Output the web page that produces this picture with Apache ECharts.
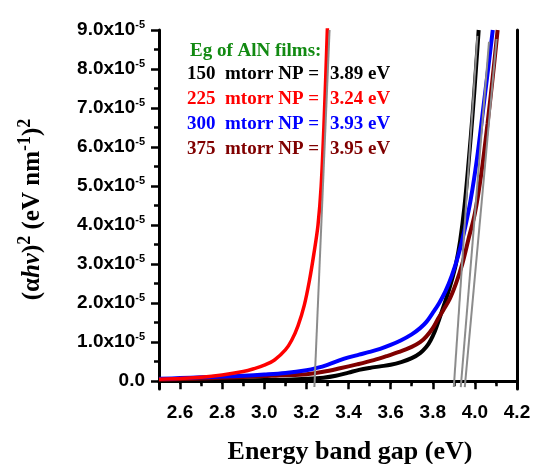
<!DOCTYPE html>
<html><head><meta charset="utf-8">
<script src="https://cdn.jsdelivr.net/npm/echarts@6/dist/echarts.min.js"></script>
<style>html,body{margin:0;padding:0;background:#fff}#c{width:533px;height:464px}</style>
</head><body><div id="c"></div>
<script>
// ---- data (y values in units of 1e-5) ----
const e150 = [2.5,2.7,2.9,3.0,3.1,3.2,3.28,3.34,3.4,3.45,3.5,3.55,3.6,3.65,3.7,3.74,3.77,3.79,3.81,3.83,3.85,3.87,3.89,3.91,3.93,3.95,3.97,3.99,4.005,4.018];
const v150 = [0.01,0.01,0.02,0.03,0.04,0.06,0.09,0.14,0.22,0.29,0.34,0.38,0.42,0.49,0.59,0.72,0.88,1.05,1.28,1.58,1.9,2.22,2.58,3.0,3.6,4.45,5.6,6.9,8.0,9.0];
const e225 = [2.5,2.6,2.7,2.8,2.9,2.95,3.0,3.05,3.1,3.13,3.16,3.19,3.215,3.235,3.255,3.27,3.285,3.3];
const v225 = [0.05,0.07,0.1,0.16,0.25,0.32,0.41,0.55,0.8,1.05,1.42,1.95,2.6,3.25,4.0,5.0,6.8,9.1];
const e300 = [2.5,2.6,2.7,2.8,2.9,3.0,3.1,3.2,3.25,3.3,3.35,3.4,3.45,3.5,3.55,3.6,3.65,3.7,3.74,3.77,3.8,3.83,3.86,3.89,3.92,3.95,3.98,4.01,4.04,4.065,4.085];
const v300 = [0.06,0.08,0.1,0.12,0.14,0.17,0.21,0.28,0.34,0.42,0.52,0.61,0.68,0.75,0.83,0.93,1.05,1.2,1.36,1.52,1.75,2.0,2.3,2.7,3.2,3.85,4.65,5.7,7.0,8.1,9.0];
const e375 = [2.5,2.7,2.9,3.0,3.1,3.2,3.28,3.36,3.44,3.52,3.58,3.64,3.7,3.74,3.77,3.8,3.825,3.85,3.88,3.91,3.94,3.97,4.0,4.03,4.06,4.085,4.108];
const v375 = [0.04,0.07,0.11,0.13,0.15,0.18,0.24,0.33,0.43,0.54,0.64,0.75,0.88,1.0,1.15,1.36,1.6,1.82,2.1,2.5,3.0,3.65,4.3,5.3,6.6,7.8,9.0];
// linear fits (tangent lines)
const fitE150 = [3.9, 4.012],  fitV150 = [-0.15, 8.85];
const fitE225 = [3.238, 3.31], fitV225 = [-0.15, 9.0];
const fitE300 = [3.933, 4.067], fitV300 = [-0.15, 8.7];
const fitE375 = [3.952, 4.103], fitV375 = [-0.15, 8.77];
// axis ticks
const xMajor = [2.6,2.8,3.0,3.2,3.4,3.6,3.8,4.0,4.2];
const xMinor = [2.5,2.7,2.9,3.1,3.3,3.5,3.7,3.9,4.1];
const yMajor = [0,1,2,3,4,5,6,7,8,9];
const yMinor = [0.5,1.5,2.5,3.5,4.5,5.5,6.5,7.5,8.5];
// legend text
const legendTitle = 'Eg of AlN films:';
const pressures = ['150','225','300','375'];
const gaps = ['3.89 eV','3.24 eV','3.93 eV','3.95 eV'];
const colors = ['#000000','#ff0000','#0000ff','#800000'];

const zip = (a,b)=>a.map((x,i)=>[x,b[i]]);
const allX = xMajor.concat(xMinor).sort((a,b)=>a-b);

const chart = echarts.init(document.getElementById('c'), null, {renderer:'canvas'});
const sansB = {fontFamily:'Liberation Sans, Arial, sans-serif', fontWeight:'bold', color:'#000'};
const serifB = {fontFamily:'Liberation Serif, Times New Roman, serif', fontWeight:'bold', color:'#000'};
const AX = 3;

const curve = (d,c,w)=>({type:'line', data:d, showSymbol:false, smooth:0.35,
  lineStyle:{color:c,width:w}, itemStyle:{color:c}, silent:true, animation:false, z:2});
const fit = (d)=>({type:'line', data:d, showSymbol:false, lineStyle:{color:'#8c8c8c',width:2}, silent:true, animation:false, z:3});

const option = {
  backgroundColor:'#fff',
  animation:false,
  grid:{left:159, right:16, top:30, bottom:75, containLabel:false, outerBoundsMode:'none'},
  xAxis:[
    {type:'value', position:'bottom', min:2.5, max:4.2,
     axisLine:{lineStyle:{color:'#000',width:AX}},
     axisTick:{customValues:xMajor, length:8, lineStyle:{width:2.5,color:'#000'}},
     axisLabel:{customValues:xMajor, margin:14, fontSize:19, ...sansB, formatter:v=>v.toFixed(1)},
     splitLine:{show:false},
     name:'Energy band gap (eV)', nameLocation:'middle', nameGap:50,
     nameTextStyle:{...serifB, fontSize:26, padding:[0,0,0,24]}},
    {type:'value', position:'bottom', offset:0, min:2.5, max:4.2,
     axisLine:{show:false},
     axisTick:{customValues:xMinor, length:5, lineStyle:{width:2.5,color:'#000'}},
     axisLabel:{show:false}, splitLine:{show:false}},
    {type:'value', position:'top', min:2.5, max:4.2,
     axisLine:{lineStyle:{color:'#000',width:AX}},
     axisTick:{customValues:allX, inside:true, length:3, lineStyle:{width:1.5,color:'#000'}},
     axisLabel:{show:false}, splitLine:{show:false}}
  ],
  yAxis:[
    {type:'value', position:'left', min:-0.2, max:9,
     axisLine:{lineStyle:{color:'#000',width:AX}},
     axisTick:{customValues:yMajor, length:8, lineStyle:{width:2.5,color:'#000'}},
     axisLabel:{customValues:yMajor, margin:14,
       formatter:v=> v===0 ? '{b|0.0}' : '{b|'+v.toFixed(1)+'x10}{s|-5}',
       rich:{b:{...sansB, fontSize:19}, s:{...sansB, fontSize:11, padding:[0,0,11,0]}}},
     splitLine:{show:false},
     name:'{t|(α}{i|hν}{t|)}{s|2}{t| (eV nm}{s|-1}{t|)}{s|2}', nameLocation:'middle', nameGap:110,
     nameTextStyle:{rich:{t:{...serifB,fontSize:25}, i:{...serifB,fontSize:25,fontStyle:'italic'},
       s:{...serifB,fontSize:18,padding:[0,0,15,0]}}}},
    {type:'value', position:'left', offset:0, min:-0.2, max:9,
     axisLine:{show:false},
     axisTick:{customValues:yMinor, length:5, lineStyle:{width:2.5,color:'#000'}},
     axisLabel:{show:false}, splitLine:{show:false}},
    {type:'value', position:'right', min:-0.2, max:9,
     axisLine:{lineStyle:{color:'#000',width:AX}},
     axisTick:{show:false}, axisLabel:{show:false}, splitLine:{show:false}}
  ],
  series:[
    curve(zip(e150,v150), colors[0], 4),
    curve(zip(e375,v375), colors[3], 4),
    curve(zip(e300,v300), colors[2], 4),
    curve(zip(e225,v225), colors[1], 3.5),
    fit(zip(fitE150,fitV150)),
    fit(zip(fitE225,fitV225)),
    fit(zip(fitE300,fitV300)),
    fit(zip(fitE375,fitV375))
  ],
  graphic:[
    {type:'text', left:190, top:42, z:10, style:{text:legendTitle, font:'bold 19px "Liberation Serif", serif', fill:'#128a12'}},
  ].concat(pressures.map((p,i)=>({type:'text', left:187, top:65+i*25, z:10,
      style:{text:p+'  mtorr NP =', font:'bold 19px "Liberation Serif", serif', fill:colors[i]}})))
   .concat(gaps.map((g,i)=>({type:'text', left:330, top:65+i*25, z:10,
      style:{text:g, font:'bold 19px "Liberation Serif", serif', fill:colors[i]}})))
};
chart.setOption(option);
</script></body></html>
